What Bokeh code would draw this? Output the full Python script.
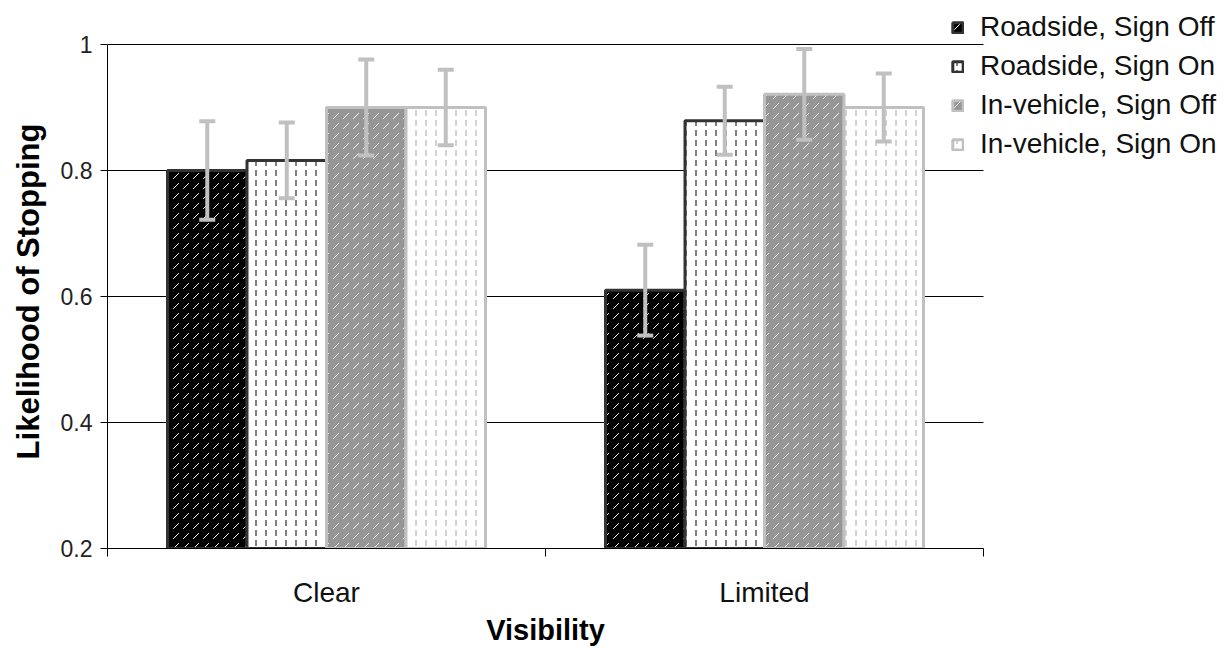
from bokeh.plotting import figure
from bokeh.models import (ColumnDataSource, Range1d, FixedTicker, Legend, LegendItem,
                          Whisker, TeeHead, LinearAxis)
from bokeh.embed import file_html
from bokeh.resources import INLINE

# ---- data ----
categories = ["Clear", "Limited"]
series = ["Roadside, Sign Off", "Roadside, Sign On", "In-vehicle, Sign Off", "In-vehicle, Sign On"]
roadside_off = [0.800, 0.610]
roadside_on = [0.816, 0.879]
invehicle_off = [0.900, 0.921]
invehicle_on = [0.900, 0.900]
roadside_off_err = [0.078, 0.072]
roadside_on_err = [0.060, 0.054]
invehicle_off_err = [0.076, 0.072]
invehicle_on_err = [0.060, 0.054]
y_ticks = [0.2, 0.4, 0.6, 0.8, 1.0]
y_tick_labels = ["0.2", "0.4", "0.6", "0.8", "1"]
x_title = "Visibility"
y_title = "Likelihood of Stopping"

values = [roadside_off, roadside_on, invehicle_off, invehicle_on]
errors = [roadside_off_err, roadside_on_err, invehicle_off_err, invehicle_on_err]

styles = [
    dict(fill_color="#000000", hatch_color="#ffffff", hatch_pattern=",", line_color="#333333"),
    dict(fill_color="#ffffff", hatch_color="#000000", hatch_pattern=":", line_color="#333333"),
    dict(fill_color="#969696", hatch_color="#ffffff", hatch_pattern=",", line_color="#c0c0c0"),
    dict(fill_color="#ffffff", hatch_color="#a6a6a6", hatch_pattern=":", line_color="#c0c0c0"),
]

FONT = "Liberation Sans"

# page geometry (pixels)
W, H = 1225, 648
LEFT, TOP, RIGHT_PX, BOTTOM_PX = 107, 0, 1225, 548
AX_RIGHT_PX, AX_TOP_PX = 983, 44
Y_TITLE_CENTER_PX = 291
n_cat = len(categories)
y_lo, y_hi = y_ticks[0], y_ticks[-1]
x_end = n_cat * (RIGHT_PX - LEFT) / (AX_RIGHT_PX - LEFT)
y_end = y_lo + (y_hi - y_lo) * (BOTTOM_PX - TOP) / (BOTTOM_PX - AX_TOP_PX)
y_title_pos = y_lo + (y_end - y_lo) * (BOTTOM_PX - Y_TITLE_CENTER_PX) / (BOTTOM_PX - TOP)

p = figure(width=W, height=H, output_backend="svg", toolbar_location=None,
           x_range=Range1d(0, x_end), y_range=Range1d(y_lo, y_end),
           min_border_left=LEFT, min_border_top=TOP, min_border_right=W - RIGHT_PX,
           min_border_bottom=H - BOTTOM_PX)
p.outline_line_color = None
p.background_fill_color = "white"
p.border_fill_color = "white"
p.xgrid.grid_line_color = None
p.ygrid.grid_line_color = None

# horizontal gridlines across the category span
p.segment(x0=[0] * len(y_ticks), x1=[n_cat] * len(y_ticks), y0=y_ticks, y1=y_ticks,
          line_color="black", line_width=1, level="underlay")

bar_w = 0.1815
centers = [i + 0.5 for i in range(n_cat)]
items = []
for k, (name, vals, errs, st) in enumerate(zip(series, values, errors, styles)):
    off = (k - 1.5) * bar_w
    xs = [c + off for c in centers]
    src = ColumnDataSource(dict(x=xs, top=vals,
                                upper=[v + e for v, e in zip(vals, errs)],
                                lower=[v - e for v, e in zip(vals, errs)]))
    r = p.vbar(x="x", top="top", bottom=y_lo, width=bar_w, source=src,
               fill_color=st["fill_color"], hatch_color=st["hatch_color"],
               hatch_pattern=st["hatch_pattern"], hatch_scale=10, hatch_weight=1,
               line_color=st["line_color"], line_width=3)
    items.append(LegendItem(label=name, renderers=[r]))
    w = Whisker(base="x", upper="upper", lower="lower", source=src,
                line_color="#c0c0c0", line_width=4, level="overlay",
                upper_head=TeeHead(size=16, line_color="#c0c0c0", line_width=4),
                lower_head=TeeHead(size=16, line_color="#c0c0c0", line_width=4))
    p.add_layout(w)

# x axis (category labels, boundary ticks)
xa = p.xaxis[0]
xa.bounds = (0, n_cat)
xa.ticker = FixedTicker(ticks=centers, minor_ticks=list(range(n_cat + 1)))
xa.major_label_overrides = {c: lab for c, lab in zip(centers, categories)}
xa.major_tick_line_color = None
xa.major_tick_out = 0
xa.major_tick_in = 0
xa.minor_tick_line_color = "black"
xa.minor_tick_out = 8
xa.minor_tick_in = 0
xa.axis_line_color = "black"
xa.major_label_text_font = FONT
xa.major_label_text_font_size = "28px"
xa.major_label_text_color = "#111111"
xa.major_label_standoff = 20

# x title, centred under the category span
xt = LinearAxis(bounds=(0, n_cat), axis_line_color=None, major_tick_line_color=None,
                minor_tick_line_color=None, major_tick_out=0, major_tick_in=0,
                minor_tick_out=0, minor_tick_in=0)
xt.ticker = FixedTicker(ticks=[n_cat / 2], minor_ticks=[])
xt.major_label_overrides = {n_cat / 2: x_title}
xt.major_label_text_font = FONT
xt.major_label_text_font_style = "bold"
xt.major_label_text_font_size = "29px"
xt.major_label_text_color = "black"
xt.major_label_standoff = 3
p.add_layout(xt, "below")

# y axis
ya = p.yaxis[0]
ya.bounds = (y_lo, y_hi)
ya.ticker = FixedTicker(ticks=y_ticks, minor_ticks=[])
ya.major_label_overrides = {t: lab for t, lab in zip(y_ticks, y_tick_labels)}
ya.major_tick_out = 7
ya.major_tick_in = 0
ya.major_tick_line_color = "black"
ya.minor_tick_line_color = None
ya.axis_line_color = "black"
ya.major_label_text_font = FONT
ya.major_label_text_font_size = "23px"
ya.major_label_text_color = "#222222"
ya.major_label_standoff = 8

# y title
yt = LinearAxis(bounds=(y_lo, y_hi), axis_line_color=None, major_tick_line_color=None,
                minor_tick_line_color=None, major_tick_out=0, major_tick_in=0,
                minor_tick_out=0, minor_tick_in=0)
yt.ticker = FixedTicker(ticks=[y_title_pos], minor_ticks=[])
yt.major_label_overrides = {y_title_pos: y_title}
yt.major_label_orientation = "parallel"
yt.major_label_text_font = FONT
yt.major_label_text_font_style = "bold"
yt.major_label_text_font_size = "31px"
yt.major_label_text_color = "black"
yt.major_label_standoff = 12
p.add_layout(yt, "left")

legend = Legend(items=items, location=(844, 388), orientation="vertical",
                label_text_font=FONT, label_text_font_size="28px", label_text_color="#111111",
                glyph_width=13, glyph_height=13, label_standoff=16, label_height=31,
                spacing=7, padding=0, margin=0, border_line_color=None,
                background_fill_alpha=0)
p.add_layout(legend)

open("out.html", "w").write(file_html(p, INLINE))
